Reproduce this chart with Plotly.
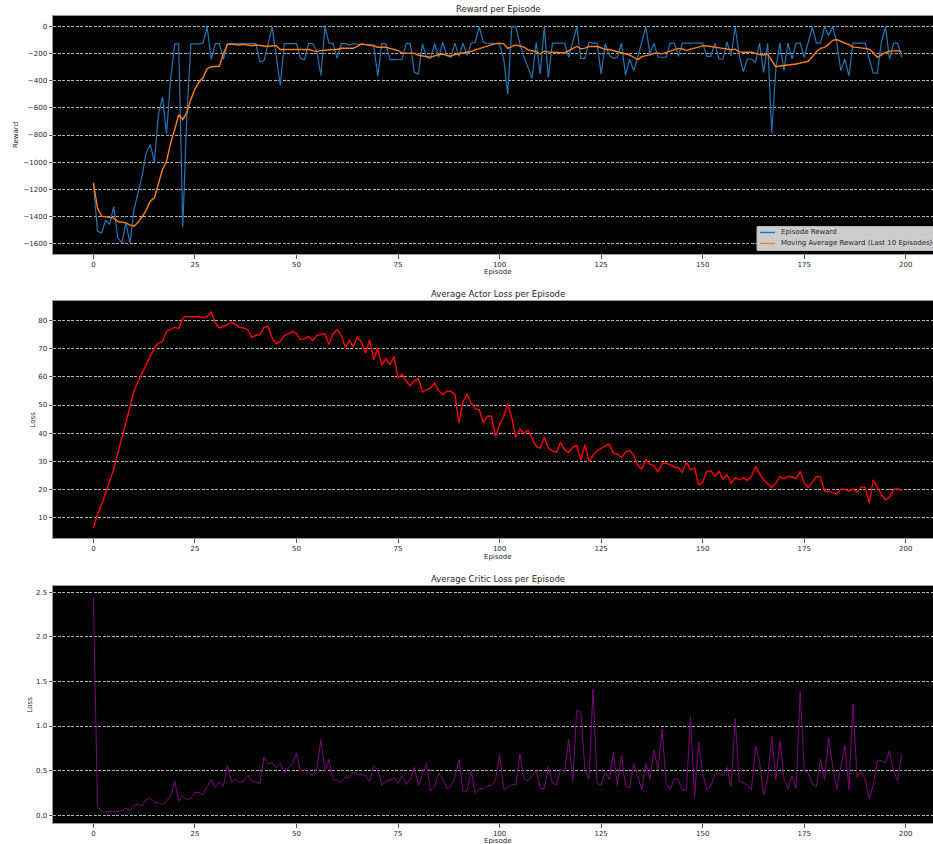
import plotly.graph_objects as go

episodes = list(range(200))

episode_reward = [
    -1154, -1510, -1525, -1430, -1460, -1330, -1560, -1600, -1450, -1600,
    -1350, -1230, -1100, -930, -870, -1000, -650, -520, -790, -390,
    -126, -126, -1480, -650, -126, -126, -126, -120, 0, -240,
    -125, -125, -240, -125, -125, -125, -120, -125, -120, -120,
    -125, -260, -250, -130, 0, -220, -430, -125, -125, -125,
    -125, -235, -243, -121, -125, -180, -360, 0, -121, -121,
    -233, -125, -125, -135, -125, -130, -130, -130, -135, -135,
    -365, -125, -125, -243, -243, -243, -240, -125, -125, -337,
    -350, -125, -225, -235, -125, -225, -114, -213, -225, -121,
    -218, -121, -213, -121, -114, 0, -114, -121, -121, -126,
    -126, -238, -498, 0, 0, -126, -225, -300, -381, -114,
    -350, 0, -374, -121, -121, -121, -121, -225, -114, 0,
    -233, -233, -114, -121, -121, -350, -125, -210, -233, -225,
    -121, -357, -238, -324, -225, -120, 0, -200, -121, -225,
    -225, -225, -121, -121, -218, -121, -121, -121, -121, -121,
    -121, -218, -218, -121, -238, -238, -114, -213, 0, -213,
    -332, -238, -238, -263, -121, -337, -121, -783, -312, -121,
    -324, -121, -238, -121, -121, -225, -110, 0, -121, -121,
    0, -64, 0, -114, -324, -238, -362, -121, -121, -121,
    -121, -238, -342, -342, -114, 0, -238, -121, -121, -225,
]

moving_avg_reward = [
    -1154, -1340, -1400, -1405, -1410, -1415, -1440, -1445, -1450, -1465,
    -1475, -1445, -1405, -1355, -1290, -1265, -1165, -1055, -995, -860,
    -760, -650, -685, -635, -535, -460, -410, -375, -310, -295,
    -293, -292, -200, -130, -130, -132, -134, -130, -134, -140,
    -134, -140, -142, -146, -140, -140, -168, -168, -168, -168,
    -168, -165, -168, -168, -176, -183, -176, -172, -168, -168,
    -168, -159, -159, -159, -159, -145, -126, -132, -134, -140,
    -151, -151, -151, -160, -170, -176, -193, -193, -193, -195,
    -210, -215, -220, -225, -215, -210, -201, -210, -218, -205,
    -200, -193, -188, -183, -170, -160, -150, -139, -130, -124,
    -121, -126, -159, -146, -134, -142, -150, -170, -176, -183,
    -201, -180, -185, -188, -190, -193, -193, -176, -160, -145,
    -163, -158, -146, -146, -146, -155, -168, -168, -176, -180,
    -190, -200, -208, -225, -243, -220, -215, -208, -196, -195,
    -200, -190, -180, -165, -160, -163, -176, -165, -159, -150,
    -139, -140, -146, -150, -155, -162, -163, -170, -165, -185,
    -188, -188, -188, -196, -205, -208, -201, -250, -295, -290,
    -287, -285, -282, -275, -268, -262, -255, -220, -185, -159,
    -152, -130, -100, -94, -110, -121, -130, -150, -152, -155,
    -159, -165, -190, -225, -208, -190, -180, -176, -176, -185,
]

actor_loss = [
    6.4, 11, 14.5, 18.3, 22.8, 27.2, 32.9, 38.2, 43.6, 50.1,
    54.9, 58.4, 61.4, 64.9, 67.9, 70.3, 72, 72.6, 76.2, 76.8,
    77.6, 77.2, 81, 81.5, 81.3, 81.3, 81.5, 81, 81.5, 83.1,
    79.2, 77.4, 78, 78.6, 79.5, 78.6, 77.6, 77.4, 76.8, 74.1,
    74.8, 75, 77.6, 78, 73.8, 71.8, 72.6, 74.8, 75.3, 76.2,
    75.3, 73.2, 73.6, 74.4, 72.9, 74.8, 75, 75.3, 71.5, 75.3,
    76.8, 75, 70.5, 72.9, 70.9, 74.1, 72.4, 68.5, 73.2, 66.1,
    70.3, 64.1, 66.5, 64.3, 67.3, 59.6, 61, 58.4, 56.9, 58.6,
    59.4, 54.6, 55.4, 56, 57.8, 55.1, 53.7, 54.9, 54.9, 53.7,
    43.6, 51.3, 53.9, 50.7, 48.7, 48.3, 43.6, 46, 46, 38.8,
    43, 46, 50.5, 45.4, 38.5, 41.6, 40, 41, 38.2, 35.3,
    34.7, 38.5, 34.7, 33.7, 33.1, 36.8, 34.1, 33.1, 35, 35.6,
    30.5, 35.9, 29.9, 32.1, 33.7, 34.7, 35.5, 36.1, 32.9, 32.5,
    31.4, 33.3, 33.9, 32.3, 28.4, 27.2, 30.5, 29, 28.5, 26.1,
    29.3, 29.3, 28.8, 27.8, 27.8, 26.1, 29.7, 27, 27.6, 21.6,
    22.5, 26.4, 26.6, 24.6, 26.4, 23.7, 25.2, 22.2, 24.2, 23.4,
    24.2, 23.2, 24.6, 28.2, 25.5, 23.4, 22, 20.7, 22.2, 24.5,
    23.8, 24.6, 24.4, 23.8, 26.4, 22.2, 20.7, 22.6, 24.6, 24.4,
    19.3, 19.3, 18.9, 18.4, 20.1, 20.1, 19.3, 20.2, 19, 20.8,
    20.8, 15.1, 23.4, 20.8, 18.1, 16.3, 17.2, 19.9, 20.2, 19.6,
]

critic_loss = [
    2.45, 0.11, 0.04, 0.03, 0.045, 0.035, 0.045, 0.05, 0.075, 0.055,
    0.11, 0.12, 0.105, 0.175, 0.19, 0.14, 0.14, 0.12, 0.16, 0.21,
    0.385, 0.16, 0.22, 0.175, 0.19, 0.255, 0.255, 0.23, 0.32, 0.40,
    0.31, 0.375, 0.325, 0.555, 0.367, 0.40, 0.364, 0.386, 0.45, 0.382,
    0.375, 0.356, 0.656, 0.573, 0.588, 0.532, 0.58, 0.476, 0.532, 0.58,
    0.693, 0.49, 0.517, 0.47, 0.45, 0.525, 0.85, 0.49, 0.626, 0.40,
    0.394, 0.367, 0.43, 0.42, 0.49, 0.45, 0.461, 0.442, 0.375, 0.555,
    0.517, 0.337, 0.382, 0.394, 0.42, 0.356, 0.442, 0.345, 0.405, 0.536,
    0.337, 0.461, 0.58, 0.27, 0.319, 0.469, 0.405, 0.30, 0.319, 0.43,
    0.626, 0.262, 0.274, 0.50, 0.244, 0.30, 0.30, 0.326, 0.337, 0.394,
    0.686, 0.292, 0.307, 0.349, 0.337, 0.686, 0.412, 0.386, 0.439, 0.50,
    0.30, 0.30, 0.543, 0.364, 0.337, 0.517, 0.487, 0.85, 0.386, 1.18,
    1.16, 0.506, 0.40, 1.413, 0.356, 0.337, 0.487, 0.40, 0.70, 0.337,
    0.675, 0.326, 0.311, 0.58, 0.442, 0.289, 0.58, 0.40, 0.73, 0.506,
    0.967, 0.356, 0.292, 0.405, 0.405, 0.274, 0.289, 1.106, 0.206, 0.813,
    0.469, 0.289, 0.326, 0.461, 0.469, 0.442, 0.536, 0.319, 1.08, 0.382,
    0.364, 0.337, 0.289, 0.776, 0.60, 0.225, 0.412, 0.88, 0.394, 0.836,
    0.412, 0.289, 0.439, 0.30, 1.387, 0.495, 0.476, 0.345, 0.319, 0.626,
    0.394, 0.873, 0.551, 0.289, 0.543, 0.78, 0.289, 1.248, 0.424, 0.487,
    0.40, 0.18, 0.337, 0.611, 0.611, 0.588, 0.723, 0.495, 0.386, 0.675,
]

x_ticks = [0, 25, 50, 75, 100, 125, 150, 175, 200]
reward_ticks = [-1600, -1400, -1200, -1000, -800, -600, -400, -200, 0]
actor_ticks = [10, 20, 30, 40, 50, 60, 70, 80]
critic_ticks = [0.0, 0.5, 1.0, 1.5, 2.0, 2.5]
legend_labels = ["Episode Reward", "Moving Average Reward (Last 10 Episodes)"]

W, H = 933, 844
ML = 53
PW = W - ML


def px_x(xp):
    return (xp - ML) / PW


def px_y(yp):
    return 1 - yp / H


FONT = "DejaVu Sans"
TXT = "#262626"
BLUE = "#1f77b4"
ORANGE = "#ff7f0e"

fig = go.Figure()
fig.add_trace(go.Scatter(x=episodes, y=episode_reward, mode="lines", name=legend_labels[0],
                         line=dict(color=BLUE, width=1.2), xaxis="x", yaxis="y"))
fig.add_trace(go.Scatter(x=episodes, y=moving_avg_reward, mode="lines", name=legend_labels[1],
                         line=dict(color=ORANGE, width=1.4), xaxis="x", yaxis="y"))
fig.add_trace(go.Scatter(x=episodes, y=actor_loss, mode="lines", name="Actor Loss",
                         line=dict(color="red", width=1.4), xaxis="x2", yaxis="y2"))
fig.add_trace(go.Scatter(x=episodes, y=critic_loss, mode="lines", name="Critic Loss",
                         line=dict(color="purple", width=1.0), xaxis="x3", yaxis="y3"))

domains = [
    (px_y(254), px_y(16)),
    (px_y(538), px_y(301)),
    (px_y(823.3), px_y(586)),
]
yranges = [[-1680, 80], [2.7, 87.0], [-0.091, 2.571]]
ytickvals = [reward_ticks, actor_ticks, critic_ticks]
yfmt = ["", "", ".1f"]

axis_common = dict(
    showline=True, linecolor="#9a9a9a", linewidth=1, mirror=True,
    ticks="outside", ticklen=3.5, tickwidth=0.8, tickcolor="#555555",
    tickfont=dict(family=FONT, size=7, color=TXT), zeroline=False,
)

layout = dict(
    width=W, height=H,
    margin=dict(l=ML, r=0, t=0, b=0, autoexpand=False),
    paper_bgcolor="white",
    plot_bgcolor="black",
    font=dict(family=FONT, size=7, color=TXT),
    showlegend=False,
)

for i in range(3):
    sx = "" if i == 0 else str(i + 1)
    layout["xaxis" + sx] = dict(
        axis_common, domain=[0, 1], range=[-9.95, 206.7],
        tickvals=x_ticks, showgrid=False, anchor="y" + sx,
    )
    layout["yaxis" + sx] = dict(
        axis_common, domain=list(domains[i]), range=yranges[i],
        tickvals=ytickvals[i], tickformat=yfmt[i], anchor="x" + sx,
        showgrid=True, gridcolor="rgba(255,255,255,0.7)", gridwidth=0.8,
        griddash="3px,1.5px",
    )

fig.update_layout(**layout)

titles = [("Reward per Episode", 9), ("Average Actor Loss per Episode", 294),
          ("Average Critic Loss per Episode", 579)]
for t, yp in titles:
    fig.add_annotation(text=t, x=px_x(498), y=px_y(yp), xref="paper", yref="paper",
                       showarrow=False, xanchor="center", yanchor="middle",
                       font=dict(family=FONT, size=8.5, color=TXT))

for yp in [272, 557, 840.5]:
    fig.add_annotation(text="Episode", x=px_x(498), y=px_y(yp), xref="paper", yref="paper",
                       showarrow=False, xanchor="center", yanchor="middle",
                       font=dict(family=FONT, size=7, color=TXT))

for label, xp, yp in [("Reward", 16, 135), ("Loss", 32, 419.5), ("Loss", 29, 704.5)]:
    fig.add_annotation(text=label, x=px_x(xp), y=px_y(yp), xref="paper", yref="paper",
                       showarrow=False, xanchor="center", yanchor="middle", textangle=-90,
                       font=dict(family=FONT, size=7, color=TXT))

# legend box (matplotlib-style, lower right of the reward axes)
fig.add_shape(type="rect", xref="paper", yref="paper",
              x0=px_x(757), x1=px_x(950), y0=px_y(250.5), y1=px_y(226.5),
              fillcolor="#cccccc", line=dict(color="#b5b5b5", width=1), layer="above")
for k, (lab, col, yp) in enumerate([(legend_labels[0], BLUE, 232.5),
                                    (legend_labels[1], ORANGE, 243.5)]):
    fig.add_shape(type="line", xref="paper", yref="paper",
                  x0=px_x(760), x1=px_x(775), y0=px_y(yp), y1=px_y(yp),
                  line=dict(color=col, width=1.4), layer="above")
    fig.add_annotation(text=lab, x=px_x(779), y=px_y(yp), xref="paper", yref="paper",
                       showarrow=False, xanchor="left", yanchor="middle",
                       font=dict(family=FONT, size=7, color=TXT))

fig.write_html("out.html", config={"displayModeBar": False},
               post_script="document.body.style.margin='0';document.body.style.overflow='hidden';")
